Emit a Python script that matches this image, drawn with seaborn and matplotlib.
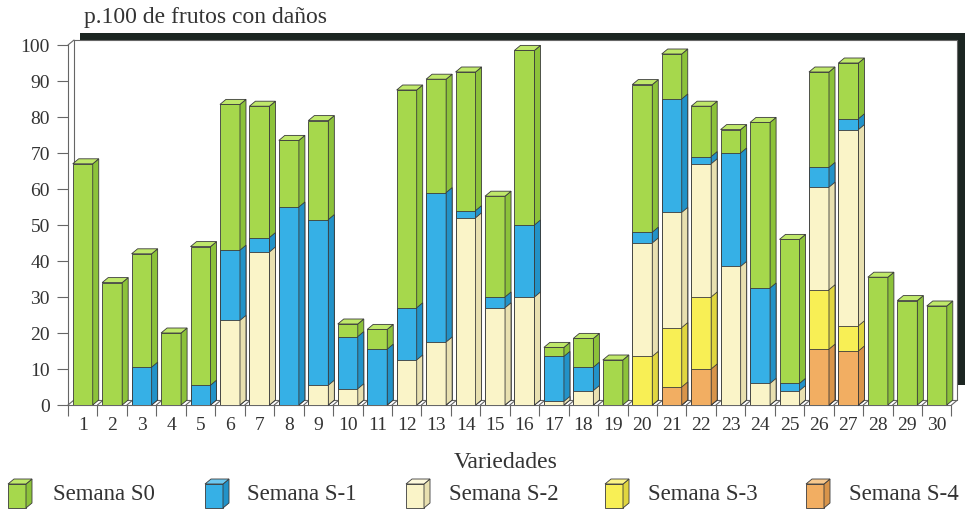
import numpy as np
import pandas as pd
import matplotlib
matplotlib.use('Agg')
import matplotlib.pyplot as plt
from matplotlib.patches import Polygon
import seaborn as sns

# Data: p.100 de frutos con daños, segment height of each week per variety
variedades = list(range(1, 31))
s0 = [67, 34, 31.5, 20, 38.5, 40.5, 36.5, 18.5, 27.5, 3.5,
      5.5, 60.5, 31.5, 38.5, 28, 48.5, 2.5, 8, 12.5, 41,
      12.5, 14, 6.5, 46, 40, 26.5, 15.5, 35.5, 29, 27.5]
s1 = [0, 0, 10.5, 0, 5.5, 19.5, 4, 55, 46, 14.5,
      15.5, 14.5, 41.5, 2, 3, 20, 12.5, 6.5, 0, 3,
      31.5, 2, 31.5, 26.5, 2, 5.5, 3, 0, 0, 0]
s2 = [0, 0, 0, 0, 0, 23.5, 42.5, 0, 5.5, 4.5,
      0, 12.5, 17.5, 52, 27, 30, 1, 4, 0, 31.5,
      32, 37, 38.5, 6, 4, 28.5, 54.5, 0, 0, 0]
s3 = [0] * 19 + [13.5, 16.5, 20, 0, 0, 0, 16.5, 7, 0, 0, 0]
s4 = [0] * 20 + [5, 10, 0, 0, 0, 15.5, 15, 0, 0, 0]

series_names = ['Semana S0', 'Semana S-1', 'Semana S-2', 'Semana S-3', 'Semana S-4']
front_colors = ['#a6d84c', '#36b0e6', '#faf4c8', '#f8ef55', '#f2ae62']
side_colors = ['#8cc23a', '#2292c8', '#e8e0b0', '#e0d640', '#d8944a']
top_colors = ['#bfe86a', '#6cc8f0', '#fdf9dc', '#fbf488', '#f7c88e']
edge = '#3a3a3a'
txt = '#333333'

sns.set_theme(style='white')
plt.rcParams['font.family'] = ['Liberation Serif', 'DejaVu Serif']

W, H = 965, 512
fig = plt.figure(figsize=(W / 100, H / 100), dpi=100)
ax_left, ax_right, ax_bottom, ax_top = 68, 951.5, 405, 45
ax = fig.add_axes([ax_left / W, 1 - ax_bottom / H,
                   (ax_right - ax_left) / W, (ax_bottom - ax_top) / H])

# cumulative stack tops, bottom -> top: S-4, S-3, S-2, S-1, S0
layers_bottom_up = [s4, s3, s2, s1, s0]
cum = np.cumsum(np.array(layers_bottom_up, dtype=float), axis=0)
df = pd.DataFrame({'variedad': variedades})
cols = ['S-4', 'S-3', 'S-2', 'S-1', 'S0']
for k, c in enumerate(cols):
    df[c] = cum[k]

xmin, xmax = 0.5, 30.5
px_x = (ax_right - ax_left) / (xmax - xmin)
px_y = (ax_bottom - ax_top) / 100
ddx, ddy = 6 / px_x, 5 / px_y

# draw from the total (S0) down to S-4 so each lower stack covers the upper one
for z, k in enumerate(range(4, -1, -1)):
    si = 4 - k  # index in series_names / colors
    n0 = len(ax.patches)
    sns.barplot(data=df, x='variedad', y=cols[k], native_scale=True,
                width=0.68, color=front_colors[si], saturation=1,
                edgecolor=edge, linewidth=0.6, errorbar=None, ax=ax)
    for p in ax.patches[n0:]:
        p.set_zorder(3 + z)
        h = p.get_height()
        if h <= 0.05:
            p.set_visible(False)
            continue
        x0, w, y0 = p.get_x(), p.get_width(), p.get_y()
        x1, y1 = x0 + w, y0 + h
        side = Polygon([(x1, y0), (x1, y1), (x1 + ddx, y1 + ddy), (x1 + ddx, y0 + ddy)],
                       closed=True, facecolor=side_colors[si], edgecolor=edge,
                       linewidth=0.6, zorder=3 + z, clip_on=False)
        ax.add_patch(side)
        if k == 4:
            top = Polygon([(x0, y1), (x1, y1), (x1 + ddx, y1 + ddy), (x0 + ddx, y1 + ddy)],
                          closed=True, facecolor=top_colors[si], edgecolor=edge,
                          linewidth=0.6, zorder=3 + z, clip_on=False)
            ax.add_patch(top)

ax.set_xlim(xmin, xmax)
ax.set_ylim(0, 100)

# back wall and floor
lc = '#666666'
wall = [((xmin + ddx, ddy), (xmin + ddx, 100 + ddy)),
        ((xmin + ddx, 100 + ddy), (xmax + ddx, 100 + ddy)),
        ((xmax + ddx, ddy), (xmax + ddx, 100 + ddy)),
        ((xmin + ddx, ddy), (xmax + ddx, ddy)),
        ((xmin, 100), (xmin + ddx, 100 + ddy))]
for (a, b) in wall:
    ax.plot([a[0], b[0]], [a[1], b[1]], color=lc, lw=0.8, zorder=1, clip_on=False)
for t in np.arange(xmin, xmax + 0.01, 1.0):
    ax.plot([t, t + ddx], [0, ddy], color=lc, lw=0.8, zorder=1, clip_on=False)

# thick dark frame along the top and right of the wall
bx0 = xmin + 12 / px_x
bx1 = xmax + 13.5 / px_x
by0 = 100 + 5 / px_y
by1 = 100 + 12 / px_y
bxr = xmax + 6.5 / px_x
byr = 20 / px_y
frame = Polygon([(bx0, by0), (bx0, by1), (bx1, by1), (bx1, byr), (bxr, byr), (bxr, by0)],
                closed=True, facecolor='#1c2622', edgecolor='none', zorder=0, clip_on=False)
ax.add_patch(frame)

# axes styling
for s in ['top', 'right']:
    ax.spines[s].set_visible(False)
for s in ['left', 'bottom']:
    ax.spines[s].set_color(lc)
    ax.spines[s].set_linewidth(0.8)
ax.set_yticks(range(0, 101, 10))
ax.set_xticks(variedades)
ax.set_xticklabels([str(v) for v in variedades])
ax.set_xticks(np.arange(xmin, xmax + 0.01, 1.0), minor=True)
ax.tick_params(axis='y', which='major', direction='out', length=8, width=0.8,
               color=lc, labelsize=14, labelcolor=txt, pad=5, left=True)
ax.tick_params(axis='x', which='major', length=0, labelsize=14,
               labelcolor=txt, pad=9)
ax.tick_params(axis='x', which='minor', direction='out', length=8, width=0.8,
               color=lc, bottom=True)
ax.set_xlabel('')
ax.set_ylabel('')
ax.grid(False)

fig.text(84 / W, 1 - 17 / H, 'p.100 de frutos con daños', fontsize=17,
         color=txt, va='center', ha='left')
fig.text(506 / W, 1 - 462 / H, 'Variedades', fontsize=17,
         color=txt, va='center', ha='center')

# legend with small box icons
def fpt(x, y):
    return (x / W, 1 - y / H)

icon_x = [8, 205, 406, 605, 806]
text_x = [53, 247, 449, 648, 849]
iy0, iy1, iw, idx, idy = 508, 484, 18, 6, 5
for i, name in enumerate(series_names):
    x0 = icon_x[i]
    x1 = x0 + iw
    faces = [
        ([(x0, iy0), (x1, iy0), (x1, iy1), (x0, iy1)], front_colors[i]),
        ([(x1, iy0), (x1 + idx, iy0 - idy), (x1 + idx, iy1 - idy), (x1, iy1)], side_colors[i]),
        ([(x0, iy1), (x1, iy1), (x1 + idx, iy1 - idy), (x0 + idx, iy1 - idy)], top_colors[i]),
    ]
    for pts, col in faces:
        fig.patches.append(Polygon([fpt(*p) for p in pts], closed=True,
                                   transform=fig.transFigure, facecolor=col,
                                   edgecolor=edge, linewidth=0.6))
    fig.text(text_x[i] / W, 1 - 494 / H, name, fontsize=16.5, color=txt,
             va='center', ha='left')

fig.savefig('out.png', dpi=100)
